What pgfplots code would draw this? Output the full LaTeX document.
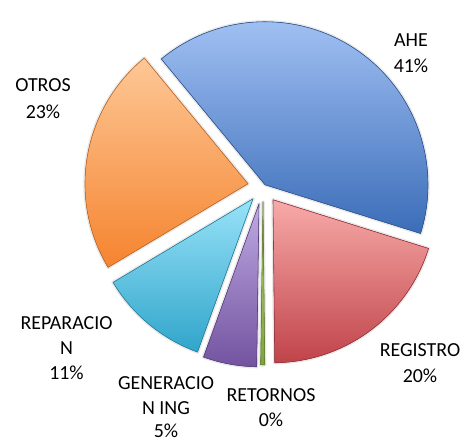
\documentclass[border=0pt]{standalone}
\usepackage{pgfplots}
\pgfplotsset{compat=1.18}
\usepackage{pgfplotstable}
\usepackage{fontspec}
\setmainfont{Carlito}
\definecolor{aheT}{HTML}{A9C7F8}
\definecolor{aheB}{HTML}{3B6DB8}
\definecolor{regT}{HTML}{F8AAA9}
\definecolor{regB}{HTML}{C0444A}
\definecolor{retT}{HTML}{B5D67A}
\definecolor{retB}{HTML}{7FA33C}
\definecolor{genT}{HTML}{BEAAE2}
\definecolor{genB}{HTML}{7353A0}
\definecolor{repT}{HTML}{98E2F8}
\definecolor{repB}{HTML}{30A5CB}
\definecolor{otrT}{HTML}{FDC796}
\definecolor{otrB}{HTML}{F5842F}
\pgfplotstableread{
name value ax ay tc bc
AHE 40.8 265 257 aheT aheB
REGISTRO 20.0 273 242 regT regB
RETORNOS 0.4 263 240 retT retB
GENERACION 5.3 259 238 genT genB
REPARACION 10.9 253 243 repT repB
OTROS 22.6 248 258 otrT otrB
}\pietable
\begin{document}
\begin{tikzpicture}
\begin{axis}[
  x=1bp, y=1bp,
  xmin=0, xmax=470, ymin=0, ymax=430,
  hide axis, clip=false,
]
\path (axis cs:0,0) rectangle (axis cs:470,430);
\pgfplotstablegetrowsof{\pietable}
\pgfmathtruncatemacro{\nrows}{\pgfplotsretval-1}
\def\startang{129.5}
\pgfplotsforeachungrouped \i in {0,...,\nrows}{%
  \pgfplotstablegetelem{\i}{value}\of\pietable \let\val\pgfplotsretval
  \pgfplotstablegetelem{\i}{ax}\of\pietable \let\ax\pgfplotsretval
  \pgfplotstablegetelem{\i}{ay}\of\pietable \let\ay\pgfplotsretval
  \pgfplotstablegetelem{\i}{tc}\of\pietable \let\tc\pgfplotsretval
  \pgfplotstablegetelem{\i}{bc}\of\pietable \let\bc\pgfplotsretval
  \pgfmathsetmacro{\endang}{\startang-3.6*\val}%
  \edef\temp{\noexpand\draw[gray!30, line width=3.5bp, line join=round, opacity=0.6]
    (axis cs:\ax,\ay) -- ++(\startang:163bp) arc[start angle=\startang, end angle=\endang, radius=163bp] -- cycle;
    \noexpand\fill[top color=\tc, bottom color=\bc, draw=\bc!80!black, line width=0.6bp, line join=round]
    (axis cs:\ax,\ay) -- ++(\startang:163bp) arc[start angle=\startang, end angle=\endang, radius=163bp] -- cycle;}%
  \temp
  \global\let\startang\endang
}
\tikzset{lbl/.style={font=\fontsize{20}{25}\selectfont, anchor=base, inner sep=0pt, text=black}}
\node[lbl] at (axis cs:411,395) {AHE};
\node[lbl] at (axis cs:411,369) {41\%};
\node[lbl] at (axis cs:420,85) {REGISTRO};
\node[lbl] at (axis cs:420,59) {20\%};
\node[lbl] at (axis cs:271,40) {RETORNOS};
\node[lbl] at (axis cs:271,15) {0\%};
\node[lbl] at (axis cs:166,52) {GENERACIO};
\node[lbl] at (axis cs:166,27.5) {N ING};
\node[lbl] at (axis cs:166,4) {5\%};
\node[lbl] at (axis cs:66.5,112) {REPARACIO};
\node[lbl] at (axis cs:66.5,87) {N};
\node[lbl] at (axis cs:66.5,62) {11\%};
\node[lbl] at (axis cs:43,350) {OTROS};
\node[lbl] at (axis cs:43,323) {23\%};
\end{axis}
\end{tikzpicture}
\end{document}
